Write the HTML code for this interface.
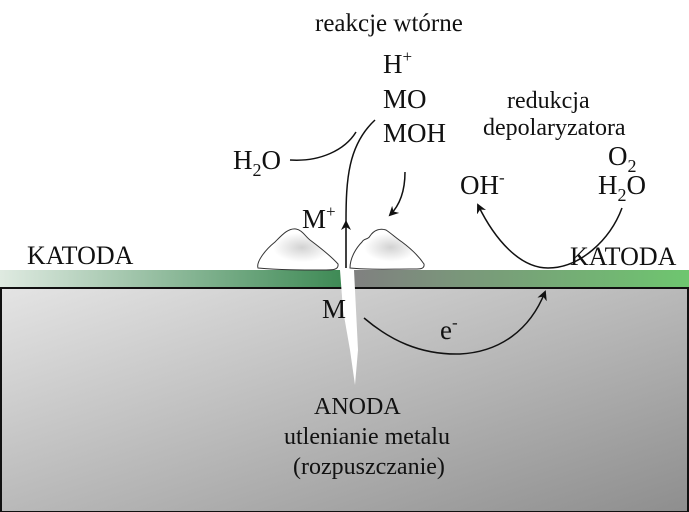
<!DOCTYPE html>
<html><head><meta charset="utf-8"><style>
html,body{margin:0;padding:0;background:#fff;}
svg{display:block;}
text{font-family:"Liberation Serif",serif;fill:#111;}
</style></head><body>
<svg width="689" height="512" viewBox="0 0 689 512" xmlns="http://www.w3.org/2000/svg">
<defs>
<linearGradient id="body" x1="0" y1="0" x2="1" y2="1">
<stop offset="0" stop-color="#e4e4e4"/><stop offset="1" stop-color="#8e8e8e"/></linearGradient>
<linearGradient id="gl" x1="0" y1="0" x2="1" y2="0">
<stop offset="0" stop-color="#dfeae1"/><stop offset="1" stop-color="#3e8a55"/></linearGradient>
<linearGradient id="gr" x1="0" y1="0" x2="1" y2="0">
<stop offset="0" stop-color="#808080"/><stop offset="1" stop-color="#6ec66f"/></linearGradient>
<radialGradient id="rock" cx="0.55" cy="0.45" r="0.6">
<stop offset="0" stop-color="#d2d2d2"/><stop offset="0.6" stop-color="#fff"/></radialGradient>
<marker id="ah" markerWidth="10" markerHeight="10" refX="8" refY="5" orient="auto" markerUnits="userSpaceOnUse">
<path d="M0,0 L10,5 L0,10 L3,5 Z" fill="#111"/></marker>
</defs>
<rect x="1" y="288" width="687" height="224" fill="url(#body)" stroke="#111" stroke-width="2"/>
<rect x="0" y="270" width="342" height="18" fill="url(#gl)"/>
<rect x="352" y="270" width="337" height="18" fill="url(#gr)"/>
<line x1="0" y1="288" x2="689" y2="288" stroke="#111" stroke-width="2"/>
<path d="M340,270 L354,270 L356,310 L358,350 L355,385 L350,350 L343,310 Z" fill="#fff"/>
<path d="M258,268 C256,262 265,250 275,242 C282,235 288,228 296,229 C302,230 305,236 310,240 C318,246 330,255 338,264 C339,270 332,270 326,270 C300,270 280,270 258,268 Z" fill="url(#rock)" stroke="#333" stroke-width="1"/>
<path d="M350,268 C350,258 356,248 362,242 C364,238 368,240 370,236 C374,230 380,228 386,230 C392,234 396,238 402,242 C410,248 418,255 424,264 C425,270 418,269 410,269 C390,269 370,270 350,268 Z" fill="url(#rock)" stroke="#333" stroke-width="1"/>
<path d="M346,268 L346,222" stroke="#111" stroke-width="1.6" marker-end="url(#ah)"/>
<path d="M346,222 C346,180 348,145 375,120" stroke="#111" stroke-width="1.5" fill="none"/>
<path d="M290,160 C320,162 345,150 356,132" stroke="#111" stroke-width="1.5" fill="none"/>
<path d="M405,172 C405,190 400,205 390,215" stroke="#111" stroke-width="1.5" fill="none" marker-end="url(#ah)"/>
<path d="M622,208 C610,240 580,268 548,268 C520,268 495,240 478,205" stroke="#111" stroke-width="1.5" fill="none" marker-end="url(#ah)"/>
<path d="M364,318 C390,340 420,355 460,354 C500,352 530,330 545,292" stroke="#111" stroke-width="1.5" fill="none" marker-end="url(#ah)"/>
<text x="315" y="31" font-size="25">reakcje wtórne</text>
<text x="383" y="73" font-size="27">H<tspan dy="-11" font-size="17">+</tspan></text>
<text x="383" y="108" font-size="27">MO</text>
<text x="383" y="142" font-size="27">MOH</text>
<text x="233" y="169" font-size="27">H<tspan dy="7" font-size="18">2</tspan><tspan dy="-7">O</tspan></text>
<text x="302" y="228" font-size="27">M<tspan dy="-11" font-size="17">+</tspan></text>
<text x="507" y="108" font-size="24">redukcja</text>
<text x="483" y="135" font-size="24">depolaryzatora</text>
<text x="608" y="165" font-size="27">O<tspan dy="7" font-size="18">2</tspan></text>
<text x="598" y="194" font-size="27">H<tspan dy="7" font-size="18">2</tspan><tspan dy="-7">O</tspan></text>
<text x="460" y="194" font-size="27">OH<tspan dy="-11" font-size="17">-</tspan></text>
<text x="27" y="264" font-size="26">KATODA</text>
<text x="570" y="265" font-size="26">KATODA</text>
<text x="322" y="318" font-size="27">M</text>
<text x="440" y="339" font-size="27">e<tspan dy="-11" font-size="17">-</tspan></text>
<text x="314" y="414" font-size="24">ANODA</text>
<text x="284" y="444" font-size="24">utlenianie metalu</text>
<text x="293" y="474" font-size="24">(rozpuszczanie)</text>
</svg>
</body></html>
